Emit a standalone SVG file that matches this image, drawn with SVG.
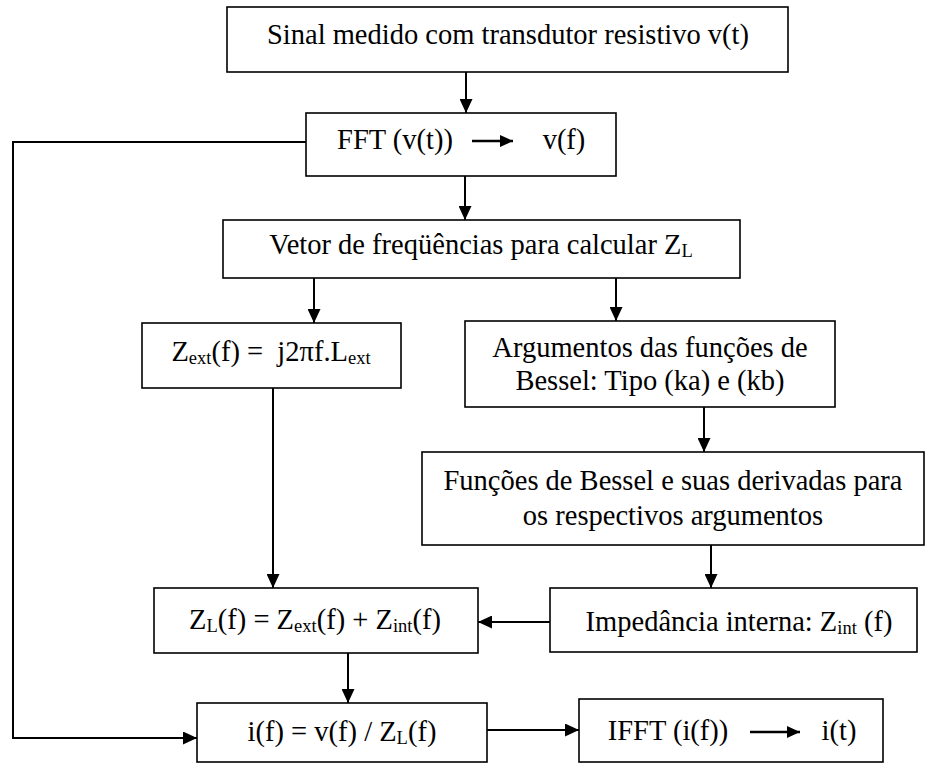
<svg xmlns="http://www.w3.org/2000/svg" width="938" height="764" viewBox="0 0 938 764">
<style>
  .box { fill: #fff; stroke: #000; stroke-width: 1.6; }
  .t { font-family: "Liberation Serif", "Times New Roman", serif; font-size: 28.5px; fill: #000; text-anchor: middle; white-space: pre; }
  .sub { font-size: 18.5px; }
  .c { fill: none; stroke: #000; stroke-width: 2; }
  .ia { fill: none; stroke: #000; stroke-width: 2.5; }
</style>
<defs>
  <marker id="ah" markerUnits="userSpaceOnUse" markerWidth="15" markerHeight="13" refX="14" refY="6.5" orient="auto">
    <path d="M0,0 L14,6.5 L0,13 z" fill="#000"/>
  </marker>
  <marker id="ahs" markerUnits="userSpaceOnUse" markerWidth="14" markerHeight="12" refX="13" refY="6" orient="auto">
    <path d="M0,0 L13,6 L0,12 z" fill="#000"/>
  </marker>
</defs>
<rect width="938" height="764" fill="#fff"/>

<g id="connectors">
  <line class="c" x1="466" y1="72" x2="466" y2="113" marker-end="url(#ah)"/>
  <line class="c" x1="465" y1="176" x2="465" y2="220" marker-end="url(#ah)"/>
  <line class="c" x1="314" y1="278" x2="314" y2="323" marker-end="url(#ah)"/>
  <line class="c" x1="616" y1="278" x2="616" y2="321" marker-end="url(#ah)"/>
  <line class="c" x1="704" y1="407" x2="704" y2="452" marker-end="url(#ah)"/>
  <line class="c" x1="711" y1="545" x2="711" y2="588" marker-end="url(#ah)"/>
  <line class="c" x1="273" y1="388" x2="273" y2="588" marker-end="url(#ah)"/>
  <line class="c" x1="550" y1="622" x2="478" y2="622" marker-end="url(#ah)"/>
  <line class="c" x1="348" y1="653" x2="348" y2="703" marker-end="url(#ah)"/>
  <line class="c" x1="487" y1="730" x2="579" y2="730" marker-end="url(#ah)"/>
  <polyline class="c" points="306,142 13,142 13,738 197,738" marker-end="url(#ah)"/>
</g>

<g id="n1">
  <rect class="box" x="227" y="7" width="561" height="65"/>
  <text class="t" x="508" y="44">Sinal medido com transdutor resistivo v(t)</text>
</g>

<g id="n2">
  <rect class="box" x="306" y="113" width="310" height="63"/>
  <text class="t" x="395" y="149">FFT (v(t))</text>
  <line class="ia" x1="472" y1="141" x2="513" y2="141" marker-end="url(#ahs)"/>
  <text class="t" x="564" y="149">v(f)</text>
</g>

<g id="n3">
  <rect class="box" x="223" y="220" width="517" height="58"/>
  <text class="t" x="481" y="254">Vetor de freqüências para calcular Z<tspan class="sub" dy="3">L</tspan></text>
</g>

<g id="n4">
  <rect class="box" x="142" y="323" width="259" height="65"/>
  <text class="t" x="271" y="361">Z<tspan class="sub" dy="3">ext</tspan><tspan dy="-3">(f) =  j2πf.L</tspan><tspan class="sub" dy="3">ext</tspan></text>
</g>

<g id="n5">
  <rect class="box" x="465" y="321" width="370" height="86"/>
  <text class="t" x="650" y="357">Argumentos das funções de</text>
  <text class="t" x="650" y="390">Bessel: Tipo (ka) e (kb)</text>
</g>

<g id="n6">
  <rect class="box" x="422" y="452" width="502" height="93"/>
  <text class="t" x="673" y="490">Funções de Bessel e suas derivadas para</text>
  <text class="t" x="673" y="525">os respectivos argumentos</text>
</g>

<g id="n7">
  <rect class="box" x="550" y="588" width="367" height="64"/>
  <text class="t" x="739" y="631">Impedância interna: Z<tspan class="sub" dy="3">int</tspan><tspan dy="-3"> (f)</tspan></text>
</g>

<g id="n8">
  <rect class="box" x="154" y="588" width="324" height="65"/>
  <text class="t" x="315" y="629">Z<tspan class="sub" dy="3">L</tspan><tspan dy="-3">(f) = Z</tspan><tspan class="sub" dy="3">ext</tspan><tspan dy="-3">(f) + Z</tspan><tspan class="sub" dy="3">int</tspan><tspan dy="-3">(f)</tspan></text>
</g>

<g id="n9">
  <rect class="box" x="197" y="703" width="290" height="59"/>
  <text class="t" x="342" y="741">i(f) = v(f) / Z<tspan class="sub" dy="3">L</tspan><tspan dy="-3">(f)</tspan></text>
</g>

<g id="n10">
  <rect class="box" x="579" y="699" width="304" height="63"/>
  <text class="t" x="668" y="740">IFFT (i(f))</text>
  <line class="ia" x1="750" y1="732" x2="800" y2="732" marker-end="url(#ahs)"/>
  <text class="t" x="839" y="740">i(t)</text>
</g>
</svg>
